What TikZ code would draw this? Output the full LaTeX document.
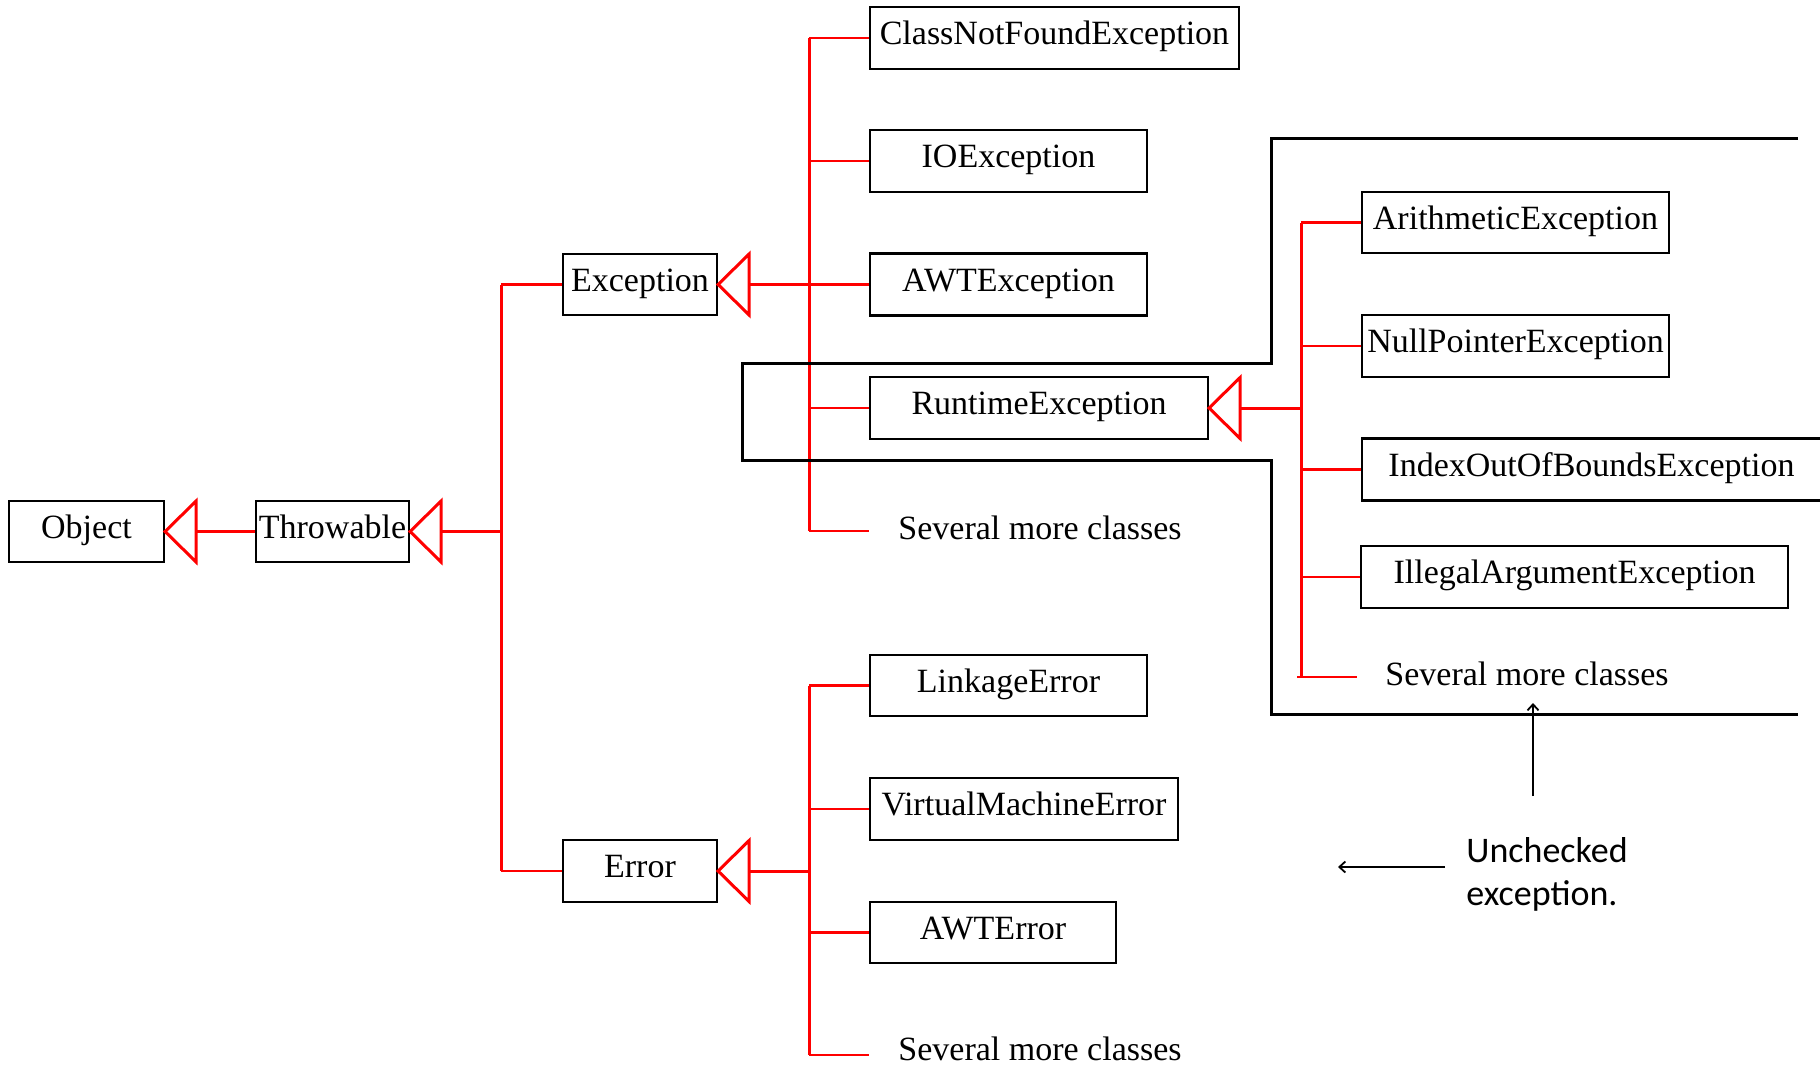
\documentclass[tikz,border=0pt]{standalone}
\usepackage{fontspec}
\setmainfont{Liberation Serif}
\newfontfamily\calibfont{Carlito}
\usetikzlibrary{arrows.meta}
\newcommand\opentri[1]{\draw[tri] (#1.east) -- ++(31,-30.5) -- ++(0,61) -- cycle;}
\begin{document}
\begin{tikzpicture}[x=0.5pt,y=-0.5pt,
  cls/.style={draw=black, line width=1.1pt, rectangle, inner sep=0pt,
    font=\fontsize{17}{20}\selectfont, text height=12pt, text depth=5.5pt},
  more/.style={anchor=base west, inner sep=0pt, font=\fontsize{17}{20}\selectfont},
  rthin/.style={draw=red, line width=1.05pt},
  rthick/.style={draw=red, line width=1.5pt},
  tri/.style={draw=red, line width=1.5pt, line join=miter},
  bracket/.style={draw=black, line width=1.5pt},
  note/.style={anchor=base west, inner sep=0pt, font=\calibfont\fontsize{18}{21.5}\selectfont},
  pointer/.style={draw=black, line width=0.9pt, -{Straight Barb[length=3pt,width=5.5pt]}}]
\useasboundingbox (0,0) rectangle (1820,1066);
\fill[white] (0,0) rectangle (1820,1066);
\clip (0,0) rectangle (1820,1066);

% class boxes
\node[cls, minimum width=77.5pt, minimum height=30.5pt] (obj) at (86.5,531.5) {Object};
\node[cls, minimum width=76.5pt, minimum height=30.5pt] (thr) at (332.5,531.5) {Throwable};
\node[cls, minimum width=77pt, minimum height=30.5pt] (exc) at (640,284.5) {Exception};
\node[cls, minimum width=77pt, minimum height=31pt] (err) at (640,871) {Error};

\node[cls, minimum width=184.5pt, minimum height=31pt] (cnf) at (1054.5,38) {ClassNotFoundException};
\node[cls, minimum width=138.5pt, minimum height=31pt] (io) at (1008.5,161) {IOException};
\node[cls, minimum width=138.5pt, minimum height=31pt] (awt) at (1008.5,284.5) {AWTException};
\node[cls, minimum width=169pt, minimum height=31pt] (rte) at (1039,408) {RuntimeException};
\node[more] (more1) at (898,539) {Several more classes};

\node[cls, minimum width=138.5pt, minimum height=30.5pt] (link) at (1008.5,685.5) {LinkageError};
\node[cls, minimum width=154pt, minimum height=31pt] (vme) at (1024,809) {VirtualMachineError};
\node[cls, minimum width=123pt, minimum height=30.5pt] (awterr) at (993,932.5) {AWTError};
\node[more] (more2) at (898,1060) {Several more classes};

\node[cls, minimum width=153.5pt, minimum height=30.5pt] (arith) at (1515.5,222.5) {ArithmeticException};
\node[cls, minimum width=153.5pt, minimum height=31pt] (npe) at (1515.5,346) {NullPointerException};
\node[cls, minimum width=229.5pt, minimum height=31pt] (ioob) at (1591.5,469.5) {IndexOutOfBoundsException};
\node[cls, minimum width=213.5pt, minimum height=31pt] (iae) at (1574.5,577) {IllegalArgumentException};
\node[more] (more3) at (1385,685) {Several more classes};

% junction points
\coordinate (j0) at (501,531.5);
\coordinate (jexc) at (501,284.5);
\coordinate (jerr) at (501,871);
\coordinate (ea) at (809,38);
\coordinate (eb) at (809,531);
\coordinate (m1) at (869,531);
\coordinate (ra) at (809,685.5);
\coordinate (rb) at (809,1055);
\coordinate (m2) at (869,1055);
\coordinate (ua) at (1301,222.5);
\coordinate (ub) at (1301,677);
\coordinate (m3) at (1357,677);

% inheritance triangles
\opentri{obj}
\opentri{thr}
\opentri{exc}
\opentri{err}
\opentri{rte}

% Object <- Throwable
\draw[rthick] ([xshift=15.5pt]obj.east) -- (thr.west);
\draw[rthick] ([xshift=15.5pt]thr.east) -- (j0);
\draw[rthick] (jexc) -- (jerr);
\draw[rthin] (jexc) -- (exc.west);
\draw[rthin] (jerr) -- (err.west);

% Exception subtree
\draw[rthick] ([xshift=15.5pt]exc.east) -- (ea |- exc.east);
\draw[rthick] (ea) -- (eb);
\draw[rthin] (ea |- cnf.west) -- (cnf.west);
\draw[rthin] (ea |- io.west) -- (io.west);
\draw[rthin] (ea |- awt.west) -- (awt.west);
\draw[rthin] (ea |- rte.west) -- (rte.west);
\draw[rthin] (eb) -- (m1);

% Error subtree
\draw[rthick] ([xshift=15.5pt]err.east) -- (ra |- err.east);
\draw[rthick] (ra) -- (rb);
\draw[rthin] (ra |- link.west) -- (link.west);
\draw[rthin] (ra |- vme.west) -- (vme.west);
\draw[rthin] (ra |- awterr.west) -- (awterr.west);
\draw[rthin] (rb) -- (m2);

% RuntimeException subtree
\draw[rthick] ([xshift=15.5pt]rte.east) -- (ua |- rte.east);
\draw[rthick] (ua) -- (ub);
\draw[rthin] (ua |- arith.west) -- (arith.west);
\draw[rthin] (ua |- npe.west) -- (npe.west);
\draw[rthin] (ua |- ioob.west) -- (ioob.west);
\draw[rthin] (ua |- iae.west) -- (iae.west);
\draw[rthin] ([xshift=-2pt]ub) -- (m3);

% unchecked bracket
\draw[bracket] (1798,138) -- (1271,138) -- (1271,363) -- (742,363) -- (742,460)
  -- (1271,460) -- (1271,714) -- (1798,714);

% legend
\node[note] (unc1) at (1466,862) {Unchecked};
\node[note] (unc2) at (1466,905) {exception.};
\coordinate (up0) at (1533,796);
\coordinate (up1) at (1533,703);
\coordinate (lf0) at (1445,867);
\coordinate (lf1) at (1338,867);
\draw[pointer] (up0) -- (up1);
\draw[pointer] (lf0) -- (lf1);
\end{tikzpicture}
\end{document}
